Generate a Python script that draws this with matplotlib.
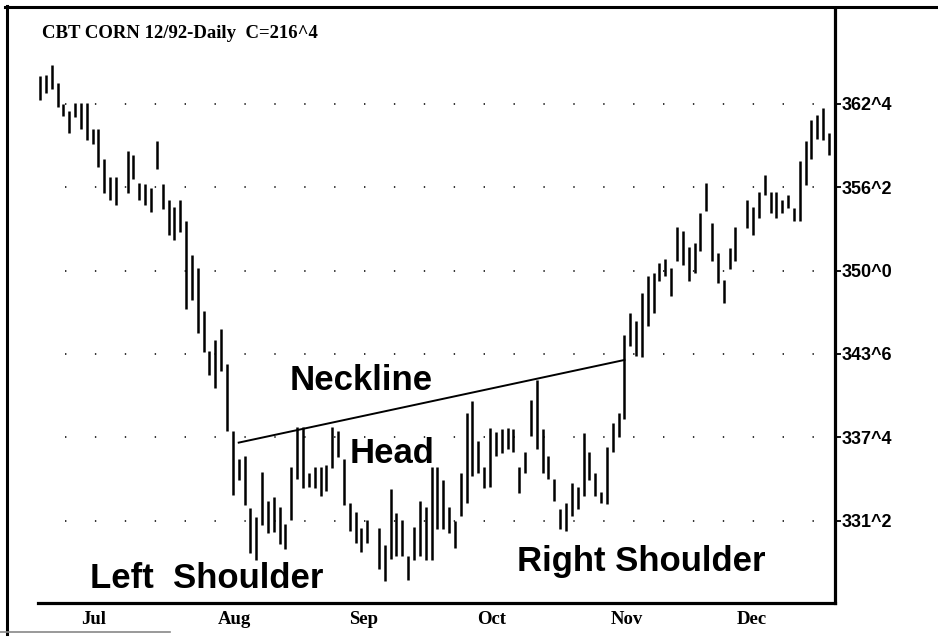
import numpy as np
import matplotlib
matplotlib.use("Agg")
import matplotlib.pyplot as plt
from matplotlib.lines import Line2D

# --- DATA: daily high / low (nan = holiday gap) ---
highs = [364.6, 364.7, 365.4, 364.1, 362.5, 362.0, 362.6, 362.6, 362.6, 360.6,
         360.6, 358.4, 357.0, 357.0, np.nan, 359.0, 358.7, 356.6, 356.5, 356.2,
         359.7, 356.5, 355.3, 354.8, 355.3, 353.7, 351.2, 350.2, 347.0, 344.0,
         344.8, 345.6, 343.0, 338.0, 335.9, 336.1, 332.2, 331.5, 334.9, 332.7,
         333.0, 332.3, 331.0, 335.3, 338.3, 338.3, 334.8, 335.3, 335.3, 335.4,
         338.3, 338.0, 335.9, 332.6, 331.9, 330.7, 331.3, np.nan, 330.7, 329.4,
         333.6, 331.8, 331.3, 328.6, 330.8, 332.7, 332.3, 335.3, 335.3, 334.3,
         332.3, 331.2, 334.8, 339.3, 340.2, 337.2, 335.3, 338.2, 337.9, 338.1,
         338.2, 338.1, 335.3, 336.4, 340.3, 341.8, 338.1, 336.1, 334.4, 332.1,
         332.6, 334.1, 333.8, 337.8, 336.4, 334.8, 333.4, 336.8, 338.6, 339.3,
         345.2, 346.8, 346.2, 348.3, 349.6, 349.85, 350.6, 350.85, 350.2, 353.3,
         352.95, 351.8, 352.1, 354.3, 356.6, 353.6, 351.3, 349.3, 351.7, 353.3,
         np.nan, 355.3, 354.8, 355.9, 357.2, 355.9, 355.9, 355.3, 355.7, 354.7,
         358.2, 359.7, 361.3, 361.7, 362.2, 360.3]
lows = [362.8, 363.3, 363.6, 362.3, 361.6, 360.3, 361.5, 360.6, 359.8, 359.5,
        357.8, 355.8, 355.3, 354.9, np.nan, 355.8, 356.9, 355.3, 354.9, 354.4,
        357.6, 354.6, 352.7, 352.3, 352.9, 347.1, 347.8, 345.3, 343.9, 342.2,
        341.2, 342.5, 338.0, 333.2, 334.3, 332.4, 328.8, 328.3, 330.9, 330.3,
        330.4, 329.5, 329.1, 331.3, 334.4, 333.7, 333.8, 333.7, 333.1, 333.5,
        335.2, 336.0, 332.4, 330.5, 329.6, 328.9, 329.6, np.nan, 327.6, 326.7,
        328.4, 328.6, 328.6, 326.8, 328.3, 328.6, 328.3, 328.3, 330.6, 330.6,
        330.3, 329.2, 331.6, 332.6, 334.6, 334.8, 333.7, 333.8, 336.1, 336.3,
        336.6, 336.4, 333.3, 334.8, 337.6, 336.6, 334.8, 334.4, 332.7, 330.6,
        330.5, 331.6, 332.1, 333.1, 334.3, 333.1, 332.6, 332.5, 336.4, 337.5,
        338.9, 344.35, 343.6, 343.5, 345.85, 346.85, 349.2, 349.6, 348.1, 350.7,
        350.45, 349.2, 349.8, 351.45, 354.45, 350.7, 349.1, 347.6, 350.1, 350.7,
        np.nan, 353.2, 352.7, 353.95, 355.7, 354.3, 353.95, 354.3, 354.7, 353.7,
        353.7, 356.4, 358.4, 359.9, 359.8, 358.7]

month_labels = ["Jul", "Aug", "Sep", "Oct", "Nov", "Dec"]
price_ticks = [362.5, 356.25, 350.0, 343.75, 337.5, 331.25]
price_labels = ["362^4", "356^2", "350^0", "343^6", "337^4", "331^2"]

# neckline drawn on the chart (bar index, price)
neck_days = [34, 100]
neck_prices = [337.1, 343.3]

W, H = 938, 642
month_pos = [9.2, 33.2, 55.4, 77.2, 100.4, 121.8]

days = np.arange(len(highs))
highs = np.array(highs)
lows = np.array(lows)
ok = ~np.isnan(highs)

fig = plt.figure(figsize=(W / 100, H / 100), dpi=100)
ax = fig.add_axes([38 / W, 1 - 603 / H, (835 - 38) / W, (603 - 10) / H])
ax.set_xlim(-0.34, 136.03)
ax.set_ylim(325.07, 369.55)

# bars
ax.vlines(days[ok], lows[ok], highs[ok], color="black", linewidth=1.8, zorder=3)
ax.plot(neck_days, neck_prices, color="black", linewidth=1.4, zorder=3)

# dotted horizontal grid (one dot every ~30 px)
lw = 1.4
period = 29.9 * 0.72
on = 1.0
off0 = period - 27 * 0.72
ax.yaxis.grid(True, color="#333333", linewidth=lw,
              linestyle=(off0 / lw, (on / lw, (period - on) / lw)))
ax.set_axisbelow(True)

# spines
for s in ["left", "top"]:
    ax.spines[s].set_visible(False)
for s in ["right", "bottom"]:
    ax.spines[s].set_linewidth(2.3)

ax.yaxis.tick_right()
ax.set_yticks(price_ticks, price_labels)
ax.tick_params(axis="y", direction="out", length=4.5, width=1.3, pad=0.5)
for lbl in ax.get_yticklabels():
    lbl.set_fontfamily("Liberation Sans")
    lbl.set_fontweight("bold")
    lbl.set_fontsize(13)

ax.set_xticks(month_pos, month_labels)
ax.tick_params(axis="x", length=0, pad=6)
for lbl in ax.get_xticklabels():
    lbl.set_fontfamily("Liberation Serif")
    lbl.set_fontweight("bold")
    lbl.set_fontsize(13.5)

# title and pattern labels
fig.text(42 / W, 1 - 38 / H, "CBT CORN 12/92-Daily  C=216^4",
         family="Liberation Serif", weight="bold", size=13.5, va="baseline")
ann = dict(family="Liberation Sans", weight="bold", size=25, va="baseline")
fig.text(290 / W, 1 - 390 / H, "Neckline", **ann)
fig.text(350 / W, 1 - 463 / H, "Head", **ann)
fig.text(90 / W, 1 - 588 / H, "Left  Shoulder", **ann)
fig.text(517 / W, 1 - 571 / H, "Right Shoulder", **ann)

# scanned page frame
fig.add_artist(Line2D([5 / W, 1], [1 - 6.5 / H] * 2, color="black", lw=2.2,
                      transform=fig.transFigure))
fig.add_artist(Line2D([6.5 / W] * 2, [1 - 6 / H, 1 - 634 / H], color="black",
                      lw=2.2, transform=fig.transFigure))
fig.add_artist(Line2D([0, 170 / W], [1 - 632 / H] * 2, color="#888888", lw=1.2,
                      transform=fig.transFigure))

fig.savefig("out.png", dpi=100)
